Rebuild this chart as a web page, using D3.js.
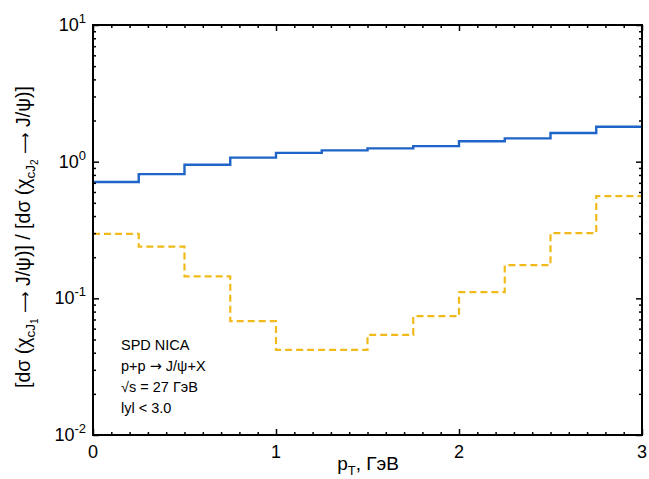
<!DOCTYPE html>
<html><head><meta charset="utf-8">
<script src="https://cdn.jsdelivr.net/npm/d3@7"></script>
<style>
html,body{margin:0;padding:0;background:#fff;}
svg{display:block;font-family:"Liberation Sans",Arial,sans-serif;}
.arr{font-family:"DejaVu Sans",sans-serif;}
</style></head>
<body><svg id="c" width="649" height="479"></svg>
<script>
const binLow = [0,0.25,0.5,0.75,1,1.25,1.5,1.75,2,2.25,2.5,2.75];
const binHighLast = 3;
const ratioSolid = [0.71,0.81,0.95,1.07,1.16,1.21,1.25,1.30,1.41,1.48,1.62,1.80];
const ratioDashed = [0.296,0.239,0.145,0.068,0.042,0.042,0.054,0.074,0.111,0.175,0.30,0.56];
const xTicks = [0,1,2,3];
const yTickExps = [1,0,-1,-2];
const infoLines = [["SPD NICA"],["p+p ","\u2192"," J/\u03C8+X"],["\u221As = 27 \u0413\u044D\u0412"],["lyl < 3.0"]];

const svg = d3.select("#c");
const L=93, R=642, T=25, B=435;
const x = d3.scaleLinear().domain([0,3]).range([L,R]);
const y = d3.scaleLog().domain([0.01,10]).range([B,T]);

const blue="#1f64c8", yellow="#f0bb1a";

function stepData(vals){
  const d = binLow.map((b,i)=>[b,vals[i]]);
  d.push([binHighLast, vals[vals.length-1]]);
  return d;
}
const line = d3.line().x(d=>x(d[0])).y(d=>y(d[1])).curve(d3.curveStepAfter);

svg.append("path").attr("d",line(stepData(ratioSolid)))
  .attr("fill","none").attr("stroke",blue).attr("stroke-width",2.4);
svg.append("path").attr("d",line(stepData(ratioDashed)))
  .attr("fill","none").attr("stroke",yellow).attr("stroke-width",2.2)
  .attr("stroke-dasharray","7,4");

// ticks
const minorX = d3.range(0,3.0001,0.1).map(v=>+v.toFixed(1)).filter(v=>!xTicks.includes(v));
const minorY = [];
[-2,-1,0].forEach(e=>{for(let k=2;k<=9;k++) minorY.push(k*Math.pow(10,e));});

const majY = yTickExps.map(e=>Math.pow(10,e));
function addAxis(ax, tr){
  const g = svg.append("g").attr("transform",tr).call(ax);
  g.select(".domain").remove();
  g.selectAll("line").attr("stroke","#000").attr("stroke-width",1.5);
}
addAxis(d3.axisBottom(x).tickValues(xTicks).tickSize(-6).tickFormat(""),`translate(0,${B})`);
addAxis(d3.axisBottom(x).tickValues(minorX).tickSize(-3).tickFormat(""),`translate(0,${B})`);
addAxis(d3.axisTop(x).tickValues(xTicks).tickSize(-6).tickFormat(""),`translate(0,${T})`);
addAxis(d3.axisTop(x).tickValues(minorX).tickSize(-3).tickFormat(""),`translate(0,${T})`);
addAxis(d3.axisLeft(y).tickValues(majY).tickSize(-6).tickFormat(""),`translate(${L},0)`);
addAxis(d3.axisLeft(y).tickValues(minorY).tickSize(-3).tickFormat(""),`translate(${L},0)`);
addAxis(d3.axisRight(y).tickValues(majY).tickSize(-6).tickFormat(""),`translate(${R},0)`);
addAxis(d3.axisRight(y).tickValues(minorY).tickSize(-3).tickFormat(""),`translate(${R},0)`);

svg.append("rect").attr("x",L).attr("y",T).attr("width",R-L).attr("height",B-T)
  .attr("fill","none").attr("stroke","#000").attr("stroke-width",2);

// x tick labels
svg.append("g").selectAll("text").data(xTicks).join("text")
  .attr("x",d=>x(d)).attr("y",B+23).attr("text-anchor","middle")
  .attr("font-size",18).text(d=>d);

// y tick labels
const yl = svg.append("g").selectAll("text").data(yTickExps).join("text")
  .attr("x",L-7).attr("y",d=>y(Math.pow(10,d))+6).attr("text-anchor","end")
  .attr("font-size",18);
yl.append("tspan").text("10");
yl.append("tspan").attr("dy",-8).attr("font-size",13).text(d=>d<0?"-"+(-d):d);

// x label
const xl = svg.append("text").attr("x",368).attr("y",470).attr("text-anchor","middle").attr("font-size",19);
xl.append("tspan").text("p");
xl.append("tspan").attr("dy",5).attr("font-size",13).text("T");
xl.append("tspan").attr("dy",-5).text(", \u0413\u044D\u0412");

// y label
const ylab = svg.append("text").attr("transform",`translate(30,237) rotate(-90)`)
  .attr("text-anchor","middle").attr("font-size",19.5);
ylab.append("tspan").text("[d\u03C3 (\u03C7");
ylab.append("tspan").attr("dy",5).attr("font-size",13.5).text("cJ");
ylab.append("tspan").attr("dy",3).attr("font-size",10).text("1");
ylab.append("tspan").attr("dy",-8).text(" ");
ylab.append("tspan").attr("class","arr").attr("font-size",15).text("\u27F6");
ylab.append("tspan").text(" J/\u03C8)] / [d\u03C3 (\u03C7");
ylab.append("tspan").attr("dy",5).attr("font-size",13.5).text("cJ");
ylab.append("tspan").attr("dy",3).attr("font-size",10).text("2");
ylab.append("tspan").attr("dy",-8).text(" ");
ylab.append("tspan").attr("class","arr").attr("font-size",15).text("\u27F6");
ylab.append("tspan").text(" J/\u03C8)]");

// info text
const info = svg.append("g").selectAll("text").data(infoLines).join("text")
  .attr("x",121).attr("y",(d,i)=>350+i*21).attr("font-size",14.5);
info.selectAll("tspan").data(d=>d).join("tspan")
  .attr("class",d=>d==="\u2192"?"arr":null).text(d=>d);
</script></body></html>
